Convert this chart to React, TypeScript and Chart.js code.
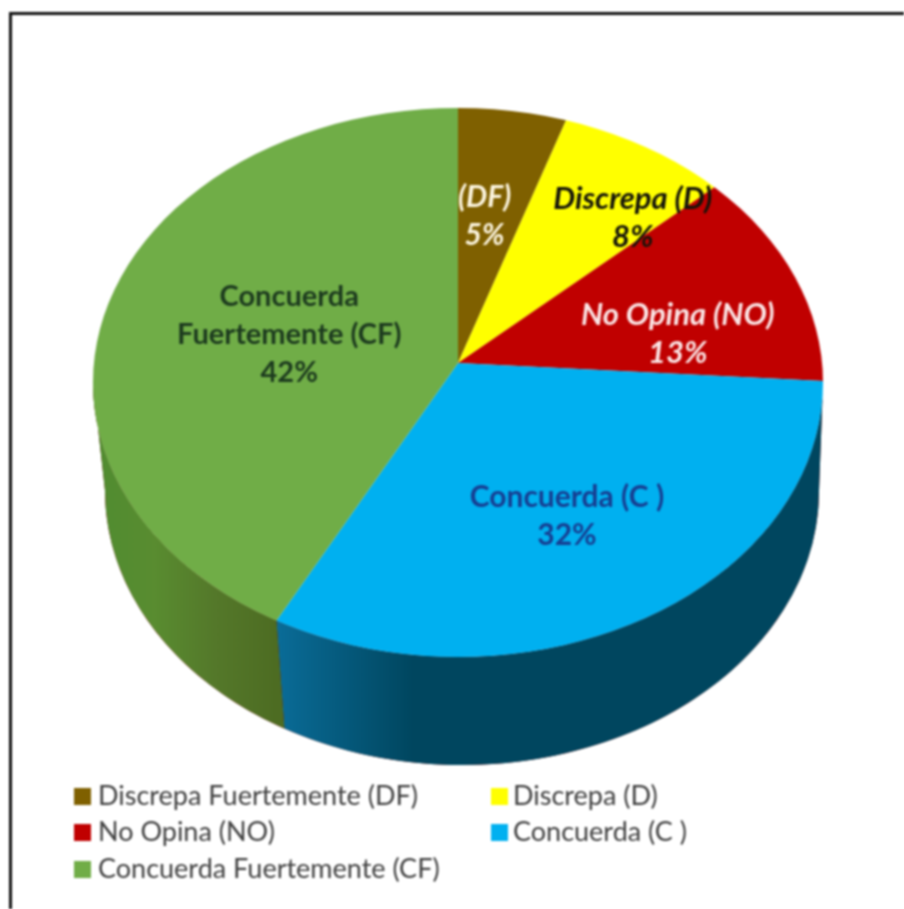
import React, { useEffect, useRef } from "react";
import { Chart, registerables } from "chart.js";

Chart.register(...registerables);

// ---- data ----
const categories = [
  "Discrepa Fuertemente (DF)",
  "Discrepa (D)",
  "No Opina (NO)",
  "Concuerda (C )",
  "Concuerda Fuertemente (CF)",
];
const values = [5, 8, 13, 32, 42];
const sliceLabels = [
  ["(DF)", "5%"],
  ["Discrepa (D)", "8%"],
  ["No Opina (NO)", "13%"],
  ["Concuerda (C )", "32%"],
  ["Concuerda", "Fuertemente (CF)", "42%"],
];

// ---- style ----
const topColors = ["#7f6000", "#ffff00", "#c00000", "#00b0f0", "#70ad47"];
const wallStops = [
  ["#5a4400", "#5a4400"],
  ["#a0a000", "#a0a000"],
  ["#7a0000", "#7a0000"],
  ["#0a6c98", "#00465f", "#00465f", "#00465f", "#00465f"],
  ["#4f8c30", "#598c30", "#54782a", "#4d6c22"],
];
const labelColors = ["#fdf6e0", "#14140a", "#fbe6e6", "#163f92", "#1c3a1e"];
const labelStyle = ["italic bold", "italic bold", "italic bold", "bold", "bold"];
const labelSizes = [30, 31, 31, 30, 29];
const labelNudge = [
  [-2, -1],
  [77, -20],
  [48, 21],
  [21, 24],
  [8, 8],
];
const FONT = "Lato, Carlito, Calibri, sans-serif";
const LABEL_LINE = 38;
const LEGEND_SIZE = 27;

// picture geometry of the tilted pie in perspective
const APEX_X = 458;
const APEX_Y = 363;
const LABEL_TILT = 295 / 365;
const TOP_CX = 458;
const TOP_CY = 382.5;
const TOP_RX = 365;
const TOP_RY = 274.5;
const BOT_CX = 462;
const BOT_CY = 490.5;
const BOT_RX = 357;
const K_UP = 0.73;
const K_DOWN = 0.78;
const OVERSCAN = 1.25;

const legendRows = [
  { index: 0, col: 0, row: 0 },
  { index: 1, col: 1, row: 0 },
  { index: 2, col: 0, row: 1 },
  { index: 3, col: 1, row: 1 },
  { index: 4, col: 0, row: 2 },
];
const legendCols = [74, 491];
const legendTextGap = [24, 22];
const legendY = [796, 832, 869];

// Parameter on the top ellipse where the slice edge at a given pie angle lands.
function rimParam(angle: number) {
  const k = Math.sin(angle) < 0 ? K_UP : K_DOWN;
  const dx = Math.cos(angle);
  const dy = Math.sin(angle) * k;
  const ox = (APEX_X - TOP_CX) / TOP_RX;
  const oy = (APEX_Y - TOP_CY) / TOP_RY;
  const ux = dx / TOP_RX;
  const uy = dy / TOP_RY;
  const a = ux * ux + uy * uy;
  const b = 2 * (ox * ux + oy * uy);
  const c = ox * ox + oy * oy - 1;
  const t = (-b + Math.sqrt(b * b - 4 * a * c)) / (2 * a);
  return Math.atan2(oy + uy * t, ox + ux * t);
}

function applyPie(ctx: any, arc: any, k: number) {
  ctx.translate(APEX_X, APEX_Y);
  ctx.scale(OVERSCAN, OVERSCAN * k);
  ctx.translate(-arc.x, -arc.y);
}

const pie3d = {
  id: "pie3d",
  beforeDatasetsDraw(chart: any) {
    const ctx = chart.ctx;
    const arcs = chart.getDatasetMeta(0).data;
    arcs.forEach((arc: any, i: number) => {
      if (arc.endAngle <= 0 || arc.startAngle >= Math.PI) return;
      const t0 = Math.max(rimParam(arc.startAngle), 0);
      const endP = arc.endAngle >= Math.PI ? Math.PI : rimParam(arc.endAngle);
      const t1 = endP < 0 ? Math.PI : Math.min(endP, Math.PI);
      if (t1 <= t0) return;
      const x0 = TOP_CX + Math.cos(t1) * TOP_RX;
      const x1 = TOP_CX + Math.cos(t0) * TOP_RX;
      const g = ctx.createLinearGradient(x0, 0, x1, 0);
      const stops = wallStops[i];
      stops.forEach((c: string, k: number) => g.addColorStop(k / (stops.length - 1), c));
      ctx.beginPath();
      ctx.ellipse(TOP_CX, TOP_CY, TOP_RX, TOP_RY, 0, t0, t1, false);
      ctx.ellipse(BOT_CX, BOT_CY, BOT_RX, TOP_RY, 0, t1, t0, true);
      ctx.closePath();
      ctx.fillStyle = g;
      ctx.fill();
    });
    ctx.save();
    ctx.beginPath();
    ctx.ellipse(TOP_CX, TOP_CY, TOP_RX, TOP_RY, 0, 0, Math.PI * 2);
    ctx.clip();
    ctx.save();
    ctx.beginPath();
    ctx.rect(0, 0, chart.width, APEX_Y);
    ctx.clip();
    applyPie(ctx, arcs[0], K_UP);
  },
  afterDatasetsDraw(chart: any) {
    const ctx = chart.ctx;
    const meta = chart.getDatasetMeta(0);
    const arcs = meta.data;
    ctx.restore();
    ctx.save();
    ctx.beginPath();
    ctx.rect(0, APEX_Y, chart.width, chart.height - APEX_Y);
    ctx.clip();
    applyPie(ctx, arcs[0], K_DOWN);
    meta.controller.draw();
    ctx.restore();
    ctx.restore();

    ctx.textAlign = "center";
    ctx.textBaseline = "middle";
    arcs.forEach((arc: any, i: number) => {
      const p = arc.getCenterPoint();
      const x = APEX_X + (p.x - arc.x) + labelNudge[i][0];
      const y = APEX_Y + (p.y - arc.y) * LABEL_TILT + labelNudge[i][1];
      const lines = sliceLabels[i];
      ctx.font = `${labelStyle[i]} ${labelSizes[i]}px ${FONT}`;
      ctx.fillStyle = labelColors[i];
      lines.forEach((t: string, k: number) => {
        ctx.fillText(t, x, y + (k - (lines.length - 1) / 2) * LABEL_LINE);
      });
    });
    ctx.textAlign = "left";
    ctx.font = `${LEGEND_SIZE}px ${FONT}`;
    legendRows.forEach(({ index, col, row }) => {
      const x = legendCols[col];
      const y = legendY[row];
      ctx.fillStyle = topColors[index];
      ctx.fillRect(x, y - 8, 17, 17);
      ctx.fillStyle = "#404040";
      ctx.fillText(categories[index], x + legendTextGap[col], y);
    });
  },
};

export default function App() {
  const ref = useRef<HTMLCanvasElement | null>(null);
  useEffect(() => {
    const chart = new Chart(ref.current as HTMLCanvasElement, {
      type: "pie",
      data: {
        labels: categories,
        datasets: [{ data: values, backgroundColor: topColors, borderWidth: 0 }],
      },
      options: {
        animation: false,
        responsive: false,
        devicePixelRatio: 1,
        layout: { padding: { left: 93, right: 81, top: 0, bottom: 179 } },
        plugins: { legend: { display: false }, tooltip: { enabled: false } },
      },
      plugins: [pie3d],
    } as any);
    return () => chart.destroy();
  }, []);
  return (
    <div
      style={{
        position: "fixed",
        left: 0,
        top: 0,
        width: 904,
        height: 909,
        background: "#fff",
        overflow: "hidden",
        filter: "blur(0.8px)",
      }}
    >
      <canvas ref={ref} width={904} height={909} style={{ display: "block" }} />
      <div style={{ position: "absolute", left: 9, top: 12, width: 2.5, height: 897, background: "#111" }} />
      <div style={{ position: "absolute", left: 9, top: 12, width: 895, height: 2.5, background: "#111" }} />
    </div>
  );
}
